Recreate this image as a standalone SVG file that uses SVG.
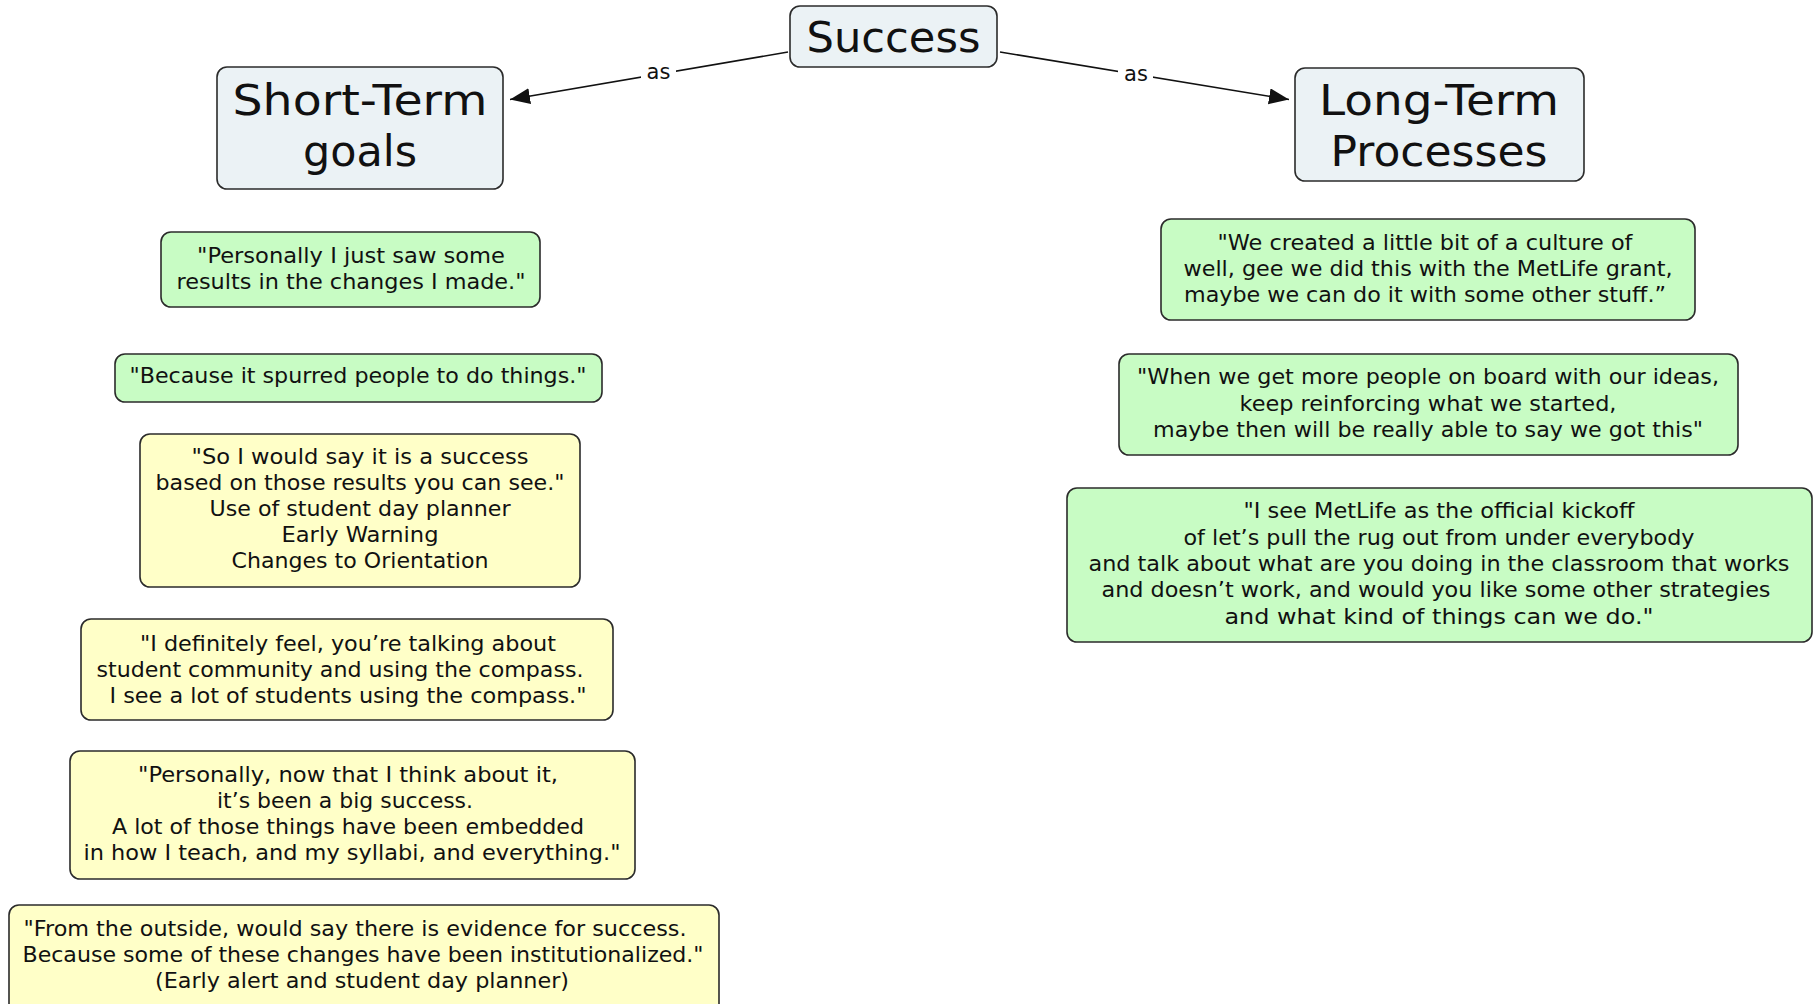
<svg xmlns="http://www.w3.org/2000/svg" width="1818" height="1004" viewBox="0 0 1818 1004">
<defs>
<style>
.t{fill:#ebf2f5;stroke:#2b2b2b;stroke-width:1.6}
.g{fill:#c8fcc4;stroke:#2b2b2b;stroke-width:1.6}
.y{fill:#ffffc8;stroke:#2b2b2b;stroke-width:1.6}
text{font-family:"DejaVu Sans",Verdana,sans-serif;fill:#111;text-anchor:middle}
.big{font-size:43px}
.q{font-size:21px}
.lb{font-size:21px}
.e{stroke:#111;stroke-width:1.6;fill:none}
</style>
<marker id="arr" markerUnits="userSpaceOnUse" markerWidth="22" markerHeight="18" refX="20" refY="8" orient="auto">
<path d="M0,0 L20,8 L0,16 z" fill="#111"/>
</marker>
</defs>
<rect width="1818" height="1004" fill="#fff"/>
<g id="connectors">
<line class="e" x1="788" y1="52" x2="510" y2="99.5" marker-end="url(#arr)"/>
<rect x="641" y="59" width="35" height="24" fill="#fff"/>
<text class="lb" x="658.5" y="79">as</text>
<line class="e" x1="1000" y1="52" x2="1289" y2="99.5" marker-end="url(#arr)"/>
<rect x="1118" y="62" width="35" height="24" fill="#fff"/>
<text class="lb" x="1136" y="81">as</text>
</g>
<g id="success">
<rect class="t" x="790" y="6" width="207" height="61" rx="10"/>
<text class="big" x="893.5" y="52" textLength="174" lengthAdjust="spacingAndGlyphs">Success</text>
</g>
<g id="short-term">
<rect class="t" x="217" y="67" width="286" height="122" rx="10"/>
<text class="big" x="360" y="115" textLength="255" lengthAdjust="spacingAndGlyphs">Short-Term</text>
<text class="big" x="360" y="166" textLength="114" lengthAdjust="spacingAndGlyphs">goals</text>
</g>
<g id="long-term">
<rect class="t" x="1295" y="68" width="289" height="113" rx="10"/>
<text class="big" x="1439" y="115" textLength="240" lengthAdjust="spacingAndGlyphs">Long-Term</text>
<text class="big" x="1439" y="166" textLength="217" lengthAdjust="spacingAndGlyphs">Processes</text>
</g>
<g id="q1">
<rect class="g" x="161" y="232" width="379" height="75" rx="10"/>
<text class="q" x="351" y="263" textLength="308" lengthAdjust="spacingAndGlyphs">"Personally I just saw some</text>
<text class="q" x="351" y="289" textLength="349" lengthAdjust="spacingAndGlyphs">results in the changes I made."</text>
</g>
<g id="q2">
<rect class="g" x="115" y="354" width="487" height="48" rx="10"/>
<text class="q" x="358" y="383" textLength="457" lengthAdjust="spacingAndGlyphs">"Because it spurred people to do things."</text>
</g>
<g id="q3">
<rect class="y" x="140" y="434" width="440" height="153" rx="10"/>
<text class="q" x="360" y="464" textLength="337" lengthAdjust="spacingAndGlyphs">"So I would say it is a success</text>
<text class="q" x="360" y="490" textLength="409" lengthAdjust="spacingAndGlyphs">based on those results you can see."</text>
<text class="q" x="360" y="516" textLength="301" lengthAdjust="spacingAndGlyphs">Use of student day planner</text>
<text class="q" x="360" y="542" textLength="157" lengthAdjust="spacingAndGlyphs">Early Warning</text>
<text class="q" x="360" y="568" textLength="257" lengthAdjust="spacingAndGlyphs">Changes to Orientation</text>
</g>
<g id="q4">
<rect class="y" x="81" y="619" width="532" height="101" rx="10"/>
<text class="q" x="348" y="651" textLength="416" lengthAdjust="spacingAndGlyphs">"I definitely feel, you’re talking about</text>
<text class="q" x="340" y="677" textLength="487" lengthAdjust="spacingAndGlyphs">student community and using the compass.</text>
<text class="q" x="348" y="703" textLength="477" lengthAdjust="spacingAndGlyphs">I see a lot of students using the compass."</text>
</g>
<g id="q5">
<rect class="y" x="70" y="751" width="565" height="128" rx="10"/>
<text class="q" x="348" y="782" textLength="420" lengthAdjust="spacingAndGlyphs">"Personally, now that I think about it,</text>
<text class="q" x="345" y="808" textLength="256" lengthAdjust="spacingAndGlyphs">it’s been a big success.</text>
<text class="q" x="348" y="834" textLength="472" lengthAdjust="spacingAndGlyphs">A lot of those things have been embedded</text>
<text class="q" x="352" y="860" textLength="537" lengthAdjust="spacingAndGlyphs">in how I teach, and my syllabi, and everything."</text>
</g>
<g id="q6">
<rect class="y" x="9" y="905" width="710" height="110" rx="10"/>
<text class="q" x="355" y="936" textLength="663" lengthAdjust="spacingAndGlyphs">"From the outside, would say there is evidence for success.</text>
<text class="q" x="363" y="962" textLength="681" lengthAdjust="spacingAndGlyphs">Because some of these changes have been institutionalized."</text>
<text class="q" x="362" y="988" textLength="414" lengthAdjust="spacingAndGlyphs">(Early alert and student day planner)</text>
</g>
<g id="q7">
<rect class="g" x="1161" y="219" width="534" height="101" rx="10"/>
<text class="q" x="1425" y="250" textLength="415" lengthAdjust="spacingAndGlyphs">"We created a little bit of a culture of</text>
<text class="q" x="1428" y="276" textLength="489" lengthAdjust="spacingAndGlyphs">well, gee we did this with the MetLife grant,</text>
<text class="q" x="1425" y="302" textLength="482" lengthAdjust="spacingAndGlyphs">maybe we can do it with some other stuff.”</text>
</g>
<g id="q8">
<rect class="g" x="1119" y="354" width="619" height="101" rx="10"/>
<text class="q" x="1428" y="384" textLength="582" lengthAdjust="spacingAndGlyphs">"When we get more people on board with our ideas,</text>
<text class="q" x="1428" y="411" textLength="377" lengthAdjust="spacingAndGlyphs">keep reinforcing what we started,</text>
<text class="q" x="1428" y="437" textLength="550" lengthAdjust="spacingAndGlyphs">maybe then will be really able to say we got this"</text>
</g>
<g id="q9">
<rect class="g" x="1067" y="488" width="745" height="154" rx="10"/>
<text class="q" x="1439" y="518" textLength="391" lengthAdjust="spacingAndGlyphs">"I see MetLife as the official kickoff</text>
<text class="q" x="1439" y="545" textLength="511" lengthAdjust="spacingAndGlyphs">of let’s pull the rug out from under everybody</text>
<text class="q" x="1439" y="571" textLength="701" lengthAdjust="spacingAndGlyphs">and talk about what are you doing in the classroom that works</text>
<text class="q" x="1436" y="597" textLength="669" lengthAdjust="spacingAndGlyphs">and doesn’t work, and would you like some other strategies</text>
<text class="q" x="1439" y="624" textLength="429" lengthAdjust="spacingAndGlyphs">and what kind of things can we do."</text>
</g>
</svg>
